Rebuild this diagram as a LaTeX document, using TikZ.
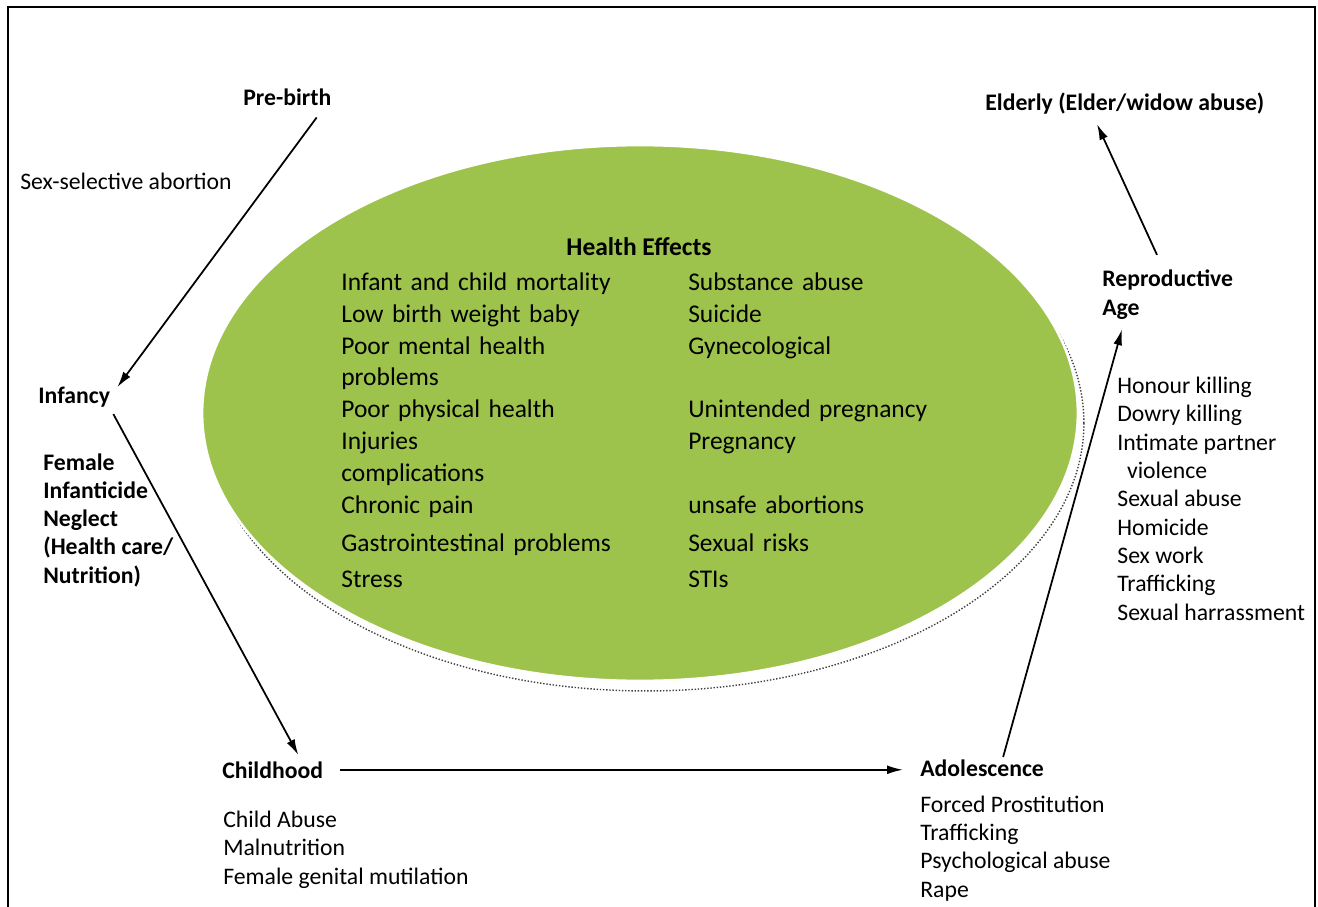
\documentclass[tikz,border=0pt]{standalone}
\usepackage{fontspec}
\setmainfont{Carlito}
\usepackage{tikz}
\usetikzlibrary{arrows.meta, calc, matrix, positioning, shapes.geometric}

\definecolor{leafgreen}{RGB}{157,195,76}

\begin{document}
\begin{tikzpicture}[x=0.02cm, y=-0.02cm,
    stage/.style={inner sep=0pt, anchor=base west, align=left,
        font=\fontsize{13.5}{16}\selectfont\bfseries},
    harm/.style={inner sep=0pt, anchor=base west, align=left,
        font=\fontsize{13.5}{16.1}\selectfont},
    arr/.style={-{Latex[length=9pt,width=5pt]}, line width=1pt},
]
\useasboundingbox (0,0) rectangle (1318,906);
\clip (0,0) rectangle (1318,906);
\draw[line width=1.2pt] (8,7) rectangle (1315,930);

% green ellipse with its dotted shadow
\node (blobshadow) [ellipse, draw=black!75, densely dotted, line width=0.8pt,
    minimum width=17.52cm, minimum height=10.72cm, inner sep=0pt] at (646,423) {};
\node (blob) [ellipse, fill=leafgreen, draw=white, line width=1.5pt,
    minimum width=17.52cm, minimum height=10.72cm, inner sep=0pt] at (640,413) {};

\node (effects) [anchor=base, inner sep=0pt, font=\fontsize{14.5}{18}\selectfont\bfseries]
    at (639,255) {Health Effects};
\matrix (m)[
    matrix of nodes,
    nodes in empty cells,
    inner sep=0pt,
    anchor=north west,
    nodes={font=\fontsize{14.5}{18}\selectfont, text height=12.5pt, text depth=5.64pt},
    column 1/.style={nodes={text width=6.94cm, align=left}},
    column 2/.style={nodes={text width=5cm, align=left}},
] at (341,268) {
Infant and child mortality & Substance abuse \\
Low birth weight baby & Suicide \\
Poor mental health & Gynecological \\
problems & \\
Poor physical health & Unintended pregnancy \\
Injuries & Pregnancy \\
complications & \\
Chronic pain & unsafe abortions \\[3.4pt]
Gastrointestinal problems & Sexual risks \\[2.3pt]
Stress & STIs \\
};

% life stages and the abuse at each (lists sit on their last line)
\node[stage] (prebirth) at (243,105) {Pre-birth};
\node[harm] (prebirthharm) at (20,189) {Sex-selective abortion};
\node[stage] (infancy) at (38,403) {Infancy};
\node[stage] (infancyharm) at (43,583) {Female\\Infanticide\\Neglect\\(Health care/\\Nutrition)};
\node[stage] (childhood) at (222,778) {Childhood};
\node[harm] (childharm) at (223,884) {Child Abuse\\Malnutrition\\Female genital mutilation};
\node[stage] (adolescence) at (920,776) {Adolescence};
\node[harm] (adolharm) at (920,897) {Forced Prostitution\\Trafficking\\Psychological abuse\\Rape};
\node[stage] (reproductive) at (1102,315) {Reproductive\\Age};
\node[harm] (reproharm) at (1117,620) {Honour killing\\Dowry killing\\Intimate partner\\\hspace*{5.5pt}violence\\Sexual abuse\\Homicide\\Sex work\\Trafficking\\Sexual harrassment};
\node[stage] (elderly) at (985,110) {Elderly (Elder/widow abuse)};

\draw[arr] ($(prebirth.south east)+(-15,12)$) -- ($(infancy.north east)+(7,1)$);
\draw[arr] ($(infancy.south east)+(3,7)$) -- ($(childhood.north east)+(-25,-6)$);
\draw[arr] ($(childhood.east)+(17,0)$) -- ($(childhood.east -| adolescence.west)+(-17,0)$);
\draw[arr] ($(adolescence.north)+(21,-2)$) -- ($(reproductive.south west)+(20,10)$);
\draw[arr] ($(reproductive.north west)+(55,-15)$) -- ($(elderly.south west)+(112,10)$);
\end{tikzpicture}
\end{document}
